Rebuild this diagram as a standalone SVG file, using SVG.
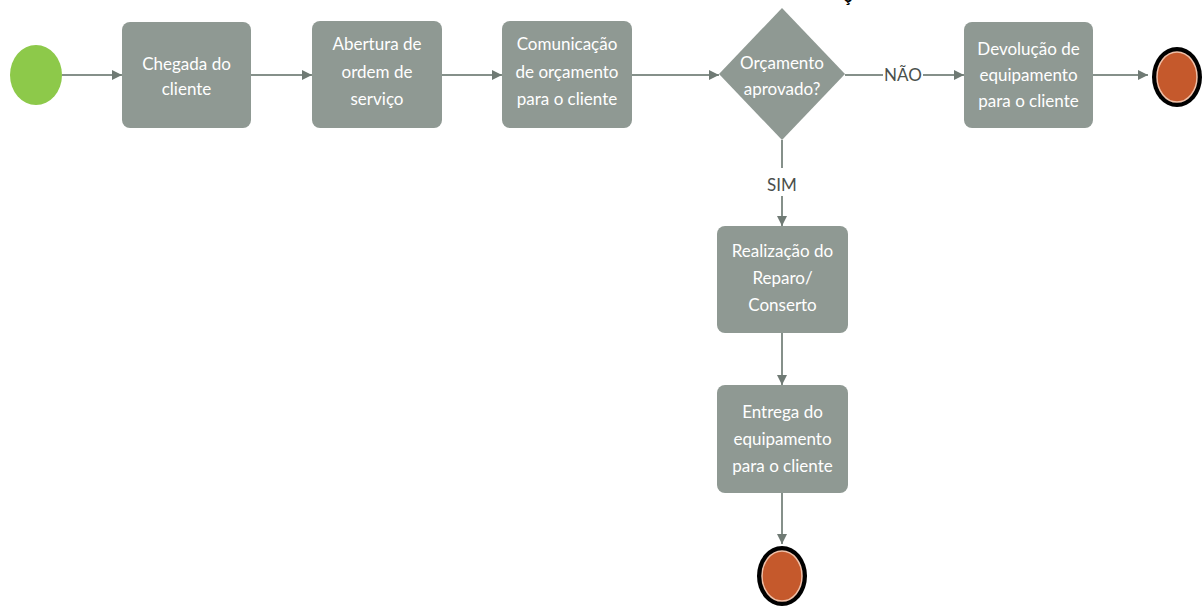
<svg xmlns="http://www.w3.org/2000/svg" width="1202" height="606" viewBox="0 0 1202 606">
<defs>
<marker id="arr" viewBox="0 0 10 10" refX="10" refY="5" markerWidth="10" markerHeight="10" markerUnits="userSpaceOnUse" orient="auto">
<path d="M0,0 L10,5 L0,10 z" fill="#6f7a74"/>
</marker>
<style>
.box{fill:#8f9993;}
.t{font-family:Lato,"Open Sans",sans-serif;font-size:17px;fill:#ffffff;text-anchor:middle;}
.lbl{font-family:Lato,"Open Sans",sans-serif;font-size:17px;fill:#4a4f4c;text-anchor:middle;}
.ln{stroke:#85908a;stroke-width:2;fill:none;}
.end{fill:#c5592c;stroke:#f0c0a8;stroke-width:1.5;}
.endo{fill:#000000;}
</style>
</defs>
<rect width="1202" height="606" fill="#ffffff"/>
<g id="connectors">
<line class="ln" x1="62" y1="75" x2="122" y2="75" marker-end="url(#arr)"/>
<line class="ln" x1="251" y1="75" x2="312" y2="75" marker-end="url(#arr)"/>
<line class="ln" x1="442" y1="75" x2="502" y2="75" marker-end="url(#arr)"/>
<line class="ln" x1="632" y1="75" x2="719" y2="75" marker-end="url(#arr)"/>
<line class="ln" x1="845" y1="75" x2="883" y2="75"/>
<line class="ln" x1="923" y1="75" x2="964" y2="75" marker-end="url(#arr)"/>
<line class="ln" x1="1093" y1="75" x2="1148" y2="75" marker-end="url(#arr)"/>
<line class="ln" x1="782" y1="140" x2="782" y2="168"/>
<line class="ln" x1="782" y1="196" x2="782" y2="226" marker-end="url(#arr)"/>
<line class="ln" x1="782" y1="333" x2="782" y2="385" marker-end="url(#arr)"/>
<line class="ln" x1="782" y1="493" x2="782" y2="544" marker-end="url(#arr)"/>
<text class="lbl" x="903" y="81">NÃO</text>
<text class="lbl" x="782" y="191">SIM</text>
</g>
<g id="start"><ellipse cx="36" cy="75" rx="26" ry="30" fill="#8dc94a"/></g>
<g id="n1"><rect class="box" x="122" y="22" width="129" height="106" rx="8"/>
<text class="t" x="186.5" y="70">Chegada do</text><text class="t" x="186.5" y="95">cliente</text></g>
<g id="n2"><rect class="box" x="312" y="21" width="130" height="107" rx="8"/>
<text class="t" x="377" y="50">Abertura de</text><text class="t" x="377" y="78">ordem de</text><text class="t" x="377" y="105">serviço</text></g>
<g id="n3"><rect class="box" x="502" y="21" width="130" height="107" rx="8"/>
<text class="t" x="567" y="50">Comunicação</text><text class="t" x="567" y="78">de orçamento</text><text class="t" x="567" y="105">para o cliente</text></g>
<g id="decision"><polygon class="box" points="782,8 845,74 782,140 719,74"/>
<text class="t" x="782" y="69">Orçamento</text><text class="t" x="782" y="95">aprovado?</text></g>
<g id="n4"><rect class="box" x="964" y="22" width="129" height="106" rx="8"/>
<text class="t" x="1028.5" y="55">Devolução de</text><text class="t" x="1028.5" y="81">equipamento</text><text class="t" x="1028.5" y="107">para o cliente</text></g>
<g id="end1"><ellipse class="endo" cx="1177" cy="77" rx="25" ry="30"/><ellipse class="end" cx="1177" cy="77" rx="20" ry="25"/></g>
<g id="n5"><rect class="box" x="717" y="226" width="131" height="107" rx="8"/>
<text class="t" x="782.5" y="257">Realização do</text><text class="t" x="782.5" y="284">Reparo/</text><text class="t" x="782.5" y="311">Conserto</text></g>
<g id="n6"><rect class="box" x="717" y="385" width="131" height="108" rx="8"/>
<text class="t" x="782.5" y="418">Entrega do</text><text class="t" x="782.5" y="445">equipamento</text><text class="t" x="782.5" y="472">para o cliente</text></g>
<g id="end2"><ellipse class="endo" cx="782" cy="576" rx="25" ry="30"/><ellipse class="end" cx="782" cy="576" rx="20" ry="25"/></g>
<text x="848" y="2" font-family="Liberation Sans, sans-serif" font-size="16" font-weight="bold" fill="#000" text-anchor="middle">ç</text>
</svg>
